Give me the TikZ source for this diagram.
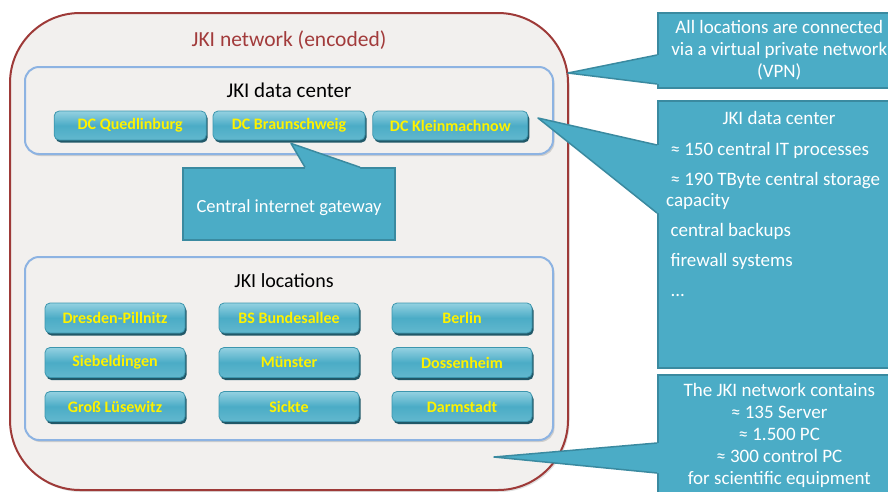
\documentclass[tikz,border=0pt]{standalone}
\usepackage{fontspec}
\setmainfont{Carlito}
\usetikzlibrary{positioning,shadows}

\definecolor{netred}{HTML}{9E3A38}
\definecolor{titlered}{HTML}{A23B3B}
\definecolor{boxfill}{HTML}{F2F0EE}
\definecolor{boxline}{HTML}{8DB3E2}
\definecolor{calloutfill}{HTML}{4BACC6}
\definecolor{calloutline}{HTML}{3A8AA0}
\definecolor{btntop}{HTML}{94D1E1}
\definecolor{btnmid}{HTML}{4BACC6}
\definecolor{btnbot}{HTML}{62B8CE}
\definecolor{btnline}{HTML}{3C96AE}
\definecolor{btnshadow}{HTML}{215868}

\begin{document}
\begin{tikzpicture}[x=1pt, y=-1pt]
      \tikzstyle{every node} = [inner sep = 2pt];
      \tikzstyle{group} = [draw=boxline, line width=2pt, fill=boxfill, rounded corners=14pt, minimum width=528pt, drop shadow={shadow xshift=1.5pt, shadow yshift=-2pt, opacity=.3}];
      \tikzstyle{btn} = [draw=btnline, line width=.8pt, rounded corners=5pt, top color=btntop, bottom color=btnbot, middle color=btnmid, minimum height=29pt, text=yellow, font=\bfseries\fontsize{16}{18}\selectfont, drop shadow={shadow xshift=1.5pt, shadow yshift=-2.5pt, fill=btnshadow, opacity=1}];
      \tikzstyle{callout} = [draw=calloutline, line width=1.5pt, fill=calloutfill, text=white, align=center, font=\fontsize{19}{22}\selectfont, minimum width=243pt, anchor=north west];
      \tikzstyle{pointer} = [fill=calloutfill];
      \tikzstyle{pointer line} = [draw=calloutline, line width=1.5pt, line join=round];
      \useasboundingbox (0,0) rectangle (888,491);
      \clip (0,0) rectangle (888,491);
      % outer network
      \node (net) [draw=netred, line width=2pt, fill=boxfill, rounded corners=70pt, minimum width=558pt, minimum height=477pt, drop shadow={shadow xshift=1.5pt, shadow yshift=-2pt, opacity=.25}] at (289,251.5) {};
      \node (nettitle) [text=titlered, font=\fontsize{21.5}{24}\selectfont] at (289,40) {JKI network (encoded)};
      % data center
      \node (dc) [group, minimum height=87pt] at (289,110.5) {};
      \node (dctitle) [font=\fontsize{21}{24}\selectfont] at (289,90) {JKI data center};
      \node (dcb) [btn, minimum width=152pt] at (289,125.5) {DC Braunschweig};
      \node (dcq) [btn, minimum width=152pt, left=6pt of dcb] {DC Quedlinburg};
      \node (dck) [btn, minimum width=155pt, right=7pt of dcb] {DC Kleinmachnow};
      % locations
      \node (loc) [group, minimum height=183pt] at (289,348.5) {};
      \node (loctitle) [font=\fontsize{20}{23}\selectfont] at (284,281) {JKI locations};
      \foreach \name/\x/\y/\txt in {dp/115/318/Dresden-Pillnitz, bs/289/318/BS Bundesallee, be/462/318/Berlin,
        si/115/362.5/Siebeldingen, mu/289/362.5/Münster, do/462/362.5/Dossenheim,
        gl/115/406.5/Groß Lüsewitz, sk/289/406.5/Sickte, da/462/406.5/Darmstadt}{
        \node (\name) [btn, minimum width=140pt, minimum height=30pt] at (\x,\y) {\txt};
      }
      % gateway callout
      \node (gw) [callout, anchor=center, minimum width=212pt, minimum height=72pt, text height=16pt, text depth=0pt, font=\fontsize{18.5}{22}\selectfont] at (289,204) {Central internet gateway};
      \coordinate (gwtip) at ([xshift=2pt, yshift=-3pt]dcb.south);
      \fill[pointer] ([xshift=16pt, yshift=-2.5pt]gw.north) -- ([xshift=16pt]gw.north) -- (gwtip)
        -- ([xshift=71pt]gw.north) -- ([xshift=71pt, yshift=-2.5pt]gw.north) -- cycle;
      \draw[pointer line] ([xshift=16pt]gw.north) -- (gwtip) -- ([xshift=71pt]gw.north);
      % right callouts
      \node (vpn) [callout, minimum height=75pt] at (657,12) {All locations are connected\\via a virtual private network\\(VPN)};
      \node (dcinfo) [callout, minimum height=267pt] at (657,100) {};
      \node (netinfo) [callout, minimum height=121pt] at (657,374) {The JKI network contains\\≈ 135 Server\\≈ 1.500 PC\\≈ 300 control PC\\for scientific equipment};
      \node (dcinfotitle) [text=white, font=\fontsize{19}{22}\selectfont] at (779,118) {JKI data center};
      \node (dcinfotxt) [text=white, anchor=north west, align=left, font=\fontsize{19}{21}\selectfont] at (664,140.5) {%
        \ ≈ 150 central IT processes\\[9pt]
        \ ≈ 190 TByte central storage\\capacity\\[9pt]
        \ central backups\\[9pt]
        \ firewall systems\\[9pt]
        \ ...};
      \coordinate (vpntip) at (568,73);
      \coordinate (dctip) at (538,118);
      \coordinate (nettip) at (494,457);
      \fill[pointer] ([xshift=2.5pt, yshift=-43pt]vpn.north west) -- ([yshift=-43pt]vpn.north west) -- (vpntip)
        -- ([yshift=-72pt]vpn.north west) -- ([xshift=2.5pt, yshift=-72pt]vpn.north west) -- cycle;
      \draw[pointer line] ([yshift=-43pt]vpn.north west) -- (vpntip) -- ([yshift=-72pt]vpn.north west);
      \fill[pointer] ([xshift=2.5pt, yshift=-45pt]dcinfo.north west) -- ([yshift=-45pt]dcinfo.north west) -- (dctip)
        -- ([yshift=-113pt]dcinfo.north west) -- ([xshift=2.5pt, yshift=-113pt]dcinfo.north west) -- cycle;
      \draw[pointer line] ([yshift=-45pt]dcinfo.north west) -- (dctip) -- ([yshift=-113pt]dcinfo.north west);
      \fill[pointer] ([xshift=2.5pt, yshift=-69pt]netinfo.north west) -- ([yshift=-69pt]netinfo.north west) -- (nettip)
        -- ([yshift=-99pt]netinfo.north west) -- ([xshift=2.5pt, yshift=-99pt]netinfo.north west) -- cycle;
      \draw[pointer line] ([yshift=-69pt]netinfo.north west) -- (nettip) -- ([yshift=-99pt]netinfo.north west);
\end{tikzpicture}
\end{document}
